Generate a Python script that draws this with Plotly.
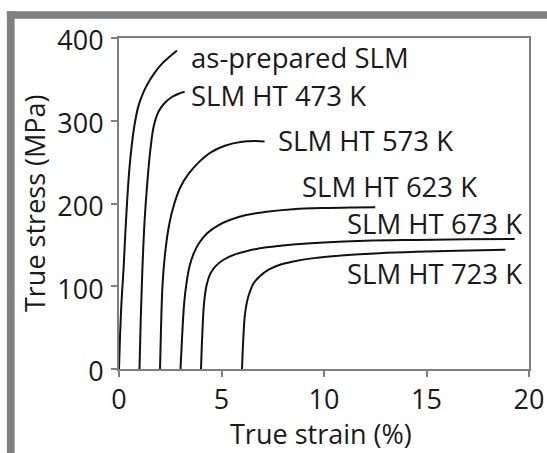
import plotly.graph_objects as go

# True stress-strain curves (strain in %, stress in MPa)
asprep_strain = [0.0, 0.05, 0.12, 0.22, 0.3, 0.39, 0.5, 0.62, 0.77, 0.95,
                 1.2, 1.5, 1.8, 2.1, 2.45, 2.83]
asprep_stress = [0, 40, 80, 120, 160, 200, 240, 270, 297, 318,
                 335, 349, 360, 369, 377, 385]

ht473_strain = [1.0, 1.06, 1.14, 1.25, 1.38, 1.53, 1.7, 1.95, 2.25, 2.6,
                2.95, 3.2]
ht473_stress = [0, 60, 120, 180, 225, 265, 294, 312, 322, 329, 333, 335]

ht573_strain = [2.0, 2.05, 2.12, 2.25, 2.45, 2.7, 3.0, 3.4, 3.9, 4.5, 5.2,
                6.0, 6.6, 7.1]
ht573_stress = [0, 50, 100, 140, 175, 200, 220, 236, 250, 262, 270,
                274.5, 275.5, 275]

ht623_strain = [3.0, 3.08, 3.18, 3.3, 3.45, 3.65, 3.9, 4.3, 4.8, 5.4, 6.2,
                7.2, 8.5, 10.0, 11.5, 12.5]
ht623_stress = [0, 40, 80, 105, 125, 140, 152, 164, 173, 180, 186,
                190, 193, 194.5, 195.2, 195.5]

ht673_strain = [4.0, 4.06, 4.15, 4.28, 4.45, 4.7, 5.1, 5.6, 6.3, 7.2, 8.5,
                10.0, 12.0, 14.5, 17.0, 19.3]
ht673_stress = [0, 40, 80, 102, 115, 124, 132, 138, 143, 147, 150.5,
                153, 155, 156, 156.7, 157]

ht723_strain = [6.0, 6.06, 6.14, 6.25, 6.38, 6.55, 6.87, 7.3, 7.85, 8.5,
                9.5, 11.0, 12.7, 14.5, 16.5, 18.85]
ht723_stress = [0, 35, 65, 82, 93, 103, 112, 120, 126, 130,
                134, 137.5, 140, 141.7, 143, 144]

curve_names = ["as-prepared SLM", "SLM HT 473 K", "SLM HT 573 K",
               "SLM HT 623 K", "SLM HT 673 K", "SLM HT 723 K"]

# label anchor points (left edge, vertical centre) in data units
label_x = [3.40, 3.40, 7.65, 8.82, 11.0, 11.0]
label_y = [377, 331, 276, 221, 176, 116]

x_ticks = [0, 5, 10, 15, 20]
y_ticks = [0, 100, 200, 300, 400]

FONT = "Open Sans"
TXT = "#1a1a1a"
AXIS = "#7f7f7f"

curves = [
    (asprep_strain, asprep_stress),
    (ht473_strain, ht473_stress),
    (ht573_strain, ht573_stress),
    (ht623_strain, ht623_stress),
    (ht673_strain, ht673_stress),
    (ht723_strain, ht723_stress),
]

fig = go.Figure()
for (xs, ys), name in zip(curves, curve_names):
    fig.add_trace(go.Scatter(
        x=xs, y=ys, mode="lines", name=name,
        line=dict(color="#111111", width=2, shape="spline", smoothing=1.0),
        showlegend=False,
    ))

annotations = []
for name, lx, ly in zip(curve_names, label_x, label_y):
    annotations.append(dict(
        x=lx, y=ly, xref="x", yref="y", text=name, showarrow=False,
        xanchor="left", yanchor="middle",
        font=dict(family=FONT, size=27.5, color=TXT),
    ))

# axis titles
annotations.append(dict(
    x=0.493, y=-0.195, xref="paper", yref="paper", text="True strain (%)",
    showarrow=False, xanchor="center", yanchor="middle",
    font=dict(family=FONT, size=27, color=TXT),
))
annotations.append(dict(
    x=-0.206, y=0.5, xref="paper", yref="paper", text="True stress (MPa)",
    showarrow=False, xanchor="center", yanchor="middle", textangle=-90,
    font=dict(family=FONT, size=27, color=TXT),
))

# grey frame along the top and left edges of the figure
L, R, T, B = 119.3, 529.0, 37.7, 369.3
W, H = R - L, B - T


def px_x(p):
    return (p - L) / W


def px_y(p):
    return (B - p) / H


shapes = [
    dict(type="rect", xref="paper", yref="paper",
         x0=px_x(7.3), x1=px_x(548), y0=px_y(11), y1=px_y(18.5),
         fillcolor="#808080", line=dict(width=0), layer="below"),
    dict(type="rect", xref="paper", yref="paper",
         x0=px_x(7.3), x1=px_x(15), y0=px_y(11), y1=px_y(454),
         fillcolor="#808080", line=dict(width=0), layer="below"),
]

fig.update_layout(
    width=547, height=453,
    margin=dict(l=119, r=18, t=38, b=84, autoexpand=False),
    paper_bgcolor="white", plot_bgcolor="white",
    annotations=annotations, shapes=shapes,
    font=dict(family=FONT, color=TXT),
)

fig.update_xaxes(
    range=[0, 20], tickvals=x_ticks, ticktext=[str(v) for v in x_ticks],
    showline=True, linecolor=AXIS, linewidth=2, mirror=True,
    ticks="outside", ticklen=6, tickwidth=2, tickcolor=AXIS,
    showgrid=False, zeroline=False,
    tickfont=dict(family=FONT, size=27, color=TXT),
)
fig.update_yaxes(
    range=[0, 400], tickvals=y_ticks, ticktext=[str(v) for v in y_ticks],
    showline=True, linecolor=AXIS, linewidth=2, mirror=True,
    ticks="outside", ticklen=6, tickwidth=2, tickcolor=AXIS,
    showgrid=False, zeroline=False, ticklabelshift=3, ticklabelstandoff=2,
    tickfont=dict(family=FONT, size=27, color=TXT),
)

fig.write_html("out.html")
